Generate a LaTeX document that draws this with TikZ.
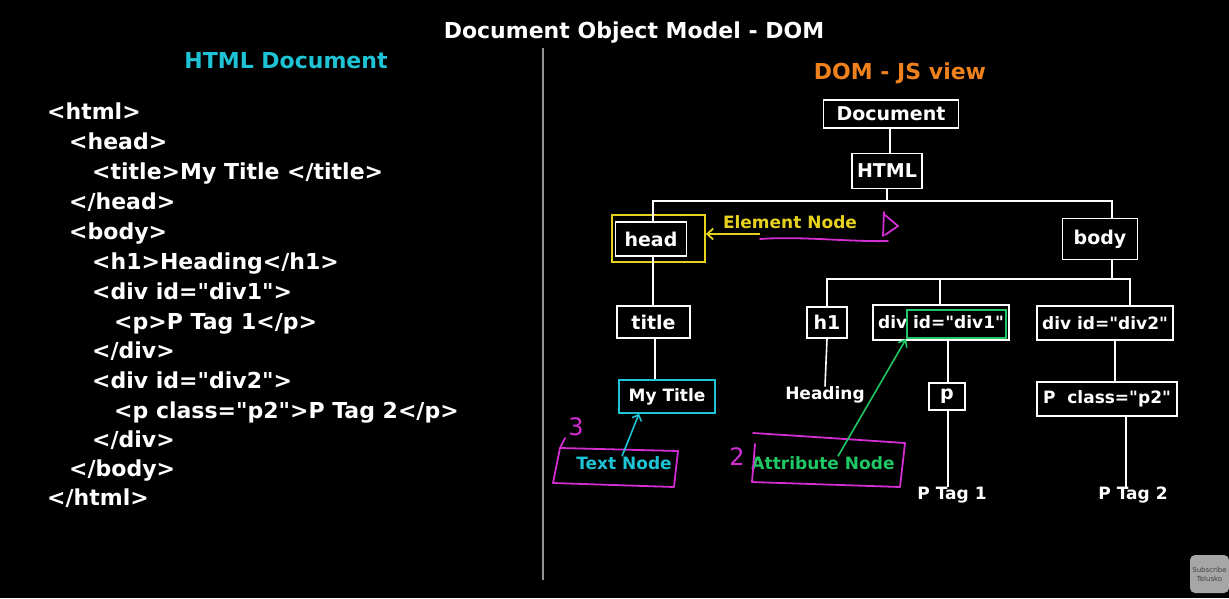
\documentclass[tikz,border=0pt]{standalone}
\usepackage{fontspec}
\setmainfont{DejaVu Sans}[Ligatures=TeXOff]
\usetikzlibrary{arrows.meta}
\definecolor{cyanc}{HTML}{1EC4D6}
\definecolor{orangec}{HTML}{F0821E}
\definecolor{yellowc}{HTML}{E6D21E}
\definecolor{magc}{HTML}{D22ED2}
\definecolor{greenc}{HTML}{1EC864}
\newcommand{\fs}[1]{\fontsize{#1}{#1}\selectfont\bfseries}
\tikzset{
  box/.style={draw=white, line width=1.6pt, text=white, inner sep=0pt, font=\fs{19}},
  sbox/.style={box, font=\fs{17}},
  code/.style={anchor=base west, text=white, inner sep=0pt, font=\fs{22}},
  lbl/.style={text=white, inner sep=0pt, font=\fs{17}},
  conn/.style={draw=white, line width=1.6pt},
  hand/.style={draw=magc, line width=1.8pt, line cap=round, line join=round},
}
\begin{document}
\begin{tikzpicture}[x=1pt,y=-1pt]
\fill[black] (0,0) rectangle (1229,598);
\useasboundingbox (0,0) rectangle (1229,598);

% titles
\node[text=white, font=\fs{22}] (ttl) at (634,33) {Document Object Model - DOM};
\node[text=cyanc, font=\fs{22}] (htmldoc) at (286,61) {HTML Document};
\node[text=orangec, font=\fs{22}] (jsview) at (900,73) {DOM - JS view};
\coordinate (dtop) at (543,48);
\coordinate (dbot) at (543,580);
\draw[gray!85, line width=2pt] (dtop) -- (dbot);

% code
\node[code] (c1) at (47,119) {<html>};
\node[code] (c2) at (69,149) {<head>};
\node[code] (c3) at (92,179) {<title>My Title </title>};
\node[code] (c4) at (69,209) {</head>};
\node[code] (c5) at (69,239) {<body>};
\node[code] (c6) at (92,269) {<h1>Heading</h1>};
\node[code] (c7) at (92,299) {<div id="div1">};
\node[code] (c8) at (114,329) {<p>P Tag 1</p>};
\node[code] (c9) at (92,358) {</div>};
\node[code] (c10) at (92,388) {<div id="div2">};
\node[code] (c11) at (114,418) {<p class="p2">P Tag 2</p>};
\node[code] (c12) at (92,447) {</div>};
\node[code] (c13) at (69,476) {</body>};
\node[code] (c14) at (47,505) {</html>};

% tree nodes
\node[box, minimum width=135pt, minimum height=28pt] (doc) at (891,114) {Document};
\node[box, minimum width=70pt, minimum height=35pt] (html) at (887,171) {HTML};
\node[box, minimum width=71pt, minimum height=34pt] (head) at (651,239) {head};
\node[box, minimum width=75pt, minimum height=41pt] (body) at (1100,239) {body};
\node[box, minimum width=73pt, minimum height=32pt] (title) at (653.5,322) {title};
\node[sbox, draw=cyanc, minimum width=96pt, minimum height=33pt] (mytitle) at (667,396.5) {My Title};
\node[box, minimum width=40pt, minimum height=31pt] (h1) at (827,322.5) {h1};
\node[sbox, minimum width=136pt, minimum height=35pt] (div1) at (941,322.5) {div id="div1"};
\node[box, minimum width=36pt, minimum height=27pt] (p) at (947,396.5) {p};
\node[sbox, minimum width=136pt, minimum height=34pt] (div2) at (1105,323) {div id="div2"};
\node[sbox, minimum width=140pt, minimum height=34pt] (p2) at (1107,399) {P\ \ class="p2"};
\node[lbl] (heading) at (825,395) {Heading};
\node[lbl] (pt1) at (952,495) {P Tag 1};
\node[lbl] (pt2) at (1133,495) {P Tag 2};

% highlight boxes
\node[draw=yellowc, line width=1.8pt, minimum width=93pt, minimum height=47pt, inner sep=0pt] (elbox) at (658.5,238.5) {};
\node[draw=greenc, line width=1.8pt, minimum width=99pt, minimum height=28pt, inner sep=0pt] (attrbox) at (956.5,324) {};

% connectors
\coordinate (j1) at (887,201);
\coordinate (j2) at (1112,279);
\draw[conn] (doc.south -| 890,0) -- (html.north -| 890,0);
\draw[conn] (html.south) -- (j1);
\draw[conn] (head.north -| 653,0) |- (j1) -| (body.north -| 1112,0);
\draw[conn] (body.south -| 1112,0) -- (j2);
\draw[conn] (h1.north) |- (j2) -| (div2.north -| 1130,0);
\draw[conn] (div1.north -| 940,0) -- (940,279);
\draw[conn] (head.south -| 653,0) -- (title.north -| 653,0);
\draw[conn] (title.south -| 655,0) -- (mytitle.north -| 655,0);
\draw[conn] (h1.south) -- (heading.north);
\draw[conn] (div1.south -| 948,0) -- (p.north -| 948,0);
\draw[conn] (p.south -| 948,0) -- (pt1.north -| 948,0);
\draw[conn] (div2.south -| 1115,0) -- (p2.north -| 1115,0);
\draw[conn] (p2.south -| 1126,0) -- (pt2.north -| 1126,0);

% annotations
\node[text=yellowc, font=\fs{17}, inner sep=0pt] (eltext) at (790,222) {Element Node};
\coordinate (elarrow) at (760,234);
\draw[yellowc, line width=1.8pt, -{Straight Barb[length=6pt, width=11pt]}] (elarrow) -- (elbox.east |- elarrow);
\coordinate (u1) at (760,239);
\coordinate (u2) at (888,241);
\draw[hand] (u1) .. controls (800,236) and (850,242) .. (u2);
\draw[hand] (883,236) -- (884,212) (885,215) -- (898,226) -- (885,235);

\node[text=cyanc, font=\fs{17}, inner sep=0pt] (textnode) at (624,463) {Text Node};
\draw[hand] (565,438) -- (560,448) -- (678,451) -- (674,487) -- (553,483) -- (560,448);
\node[text=magc, font=\fontsize{24}{24}\selectfont, inner sep=0pt] (n3) at (576,427) {3};
\draw[cyanc, line width=1.6pt, -{Straight Barb[length=5pt, width=10pt]}] (textnode.north -| 622,0) -- (mytitle.south -| 639,0);

\node[text=greenc, font=\fs{17}, inner sep=0pt] (attrnode) at (823,463) {Attribute Node};
\draw[hand] (753,433) .. controls (800,436) and (860,440) .. (905,443) -- (900,487) -- (752,482) -- (755,444);
\node[text=magc, font=\fontsize{24}{24}\selectfont, inner sep=0pt] (n2) at (737,457) {2};
\draw[greenc, line width=1.6pt, -{Straight Barb[length=6pt, width=10pt]}] (attrnode.north -| 838,0) -- (attrbox.south west);

% subscribe badge
\node[fill=gray!70, rounded corners=5pt, minimum width=39pt, minimum height=38pt, inner sep=0pt, align=center, text=black!75, font=\fontsize{7}{9}\selectfont] (sub) at (1209.5,574) {Subscribe\\Telusko};
\end{tikzpicture}
\end{document}
